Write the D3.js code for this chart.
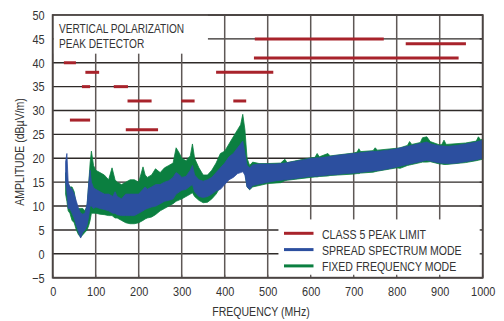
<!DOCTYPE html>
<html>
<head>
<meta charset="utf-8">
<script src="https://cdn.jsdelivr.net/npm/d3@7"></script>
<style>
html,body{margin:0;padding:0;background:#fff;}
svg{display:block;}
text{font-family:"Liberation Sans",Arial,sans-serif;fill:#333;}
</style>
</head>
<body>
<svg id="chart" width="504" height="321"></svg>
<script>
// ---- data ----
const xTicks = [0,100,200,300,400,500,600,700,800,900,1000];
const yTicks = [-5,0,5,10,15,20,25,30,35,40,45,50];

// CLASS 5 peak limit segments (MHz start, MHz end, dBµV/m)
const limitStart = [26, 76, 68, 40, 142, 174, 170, 299, 420, 380, 470, 468, 821];
const limitEnd   = [54, 108, 87, 87, 175, 230, 245, 330, 450, 513, 770, 944, 961];
const limitLevel = [40, 38, 35, 28, 35, 32, 26, 32, 32, 38, 45, 41, 44];

// Spread spectrum mode band (low / high envelope)
const specFreq = [30,33,36,40,45,50,55,60,65,70,75,80,84,87,90,95,100,110,120,130,140,145,150,160,170,180,190,200,210,215,220,230,240,250,260,270,280,287,295,300,310,320,325,330,340,350,360,370,380,390,400,410,420,430,437,442,447,452,458,465,480,500,520,540,560,580,600,620,640,660,680,700,720,740,760,780,800,820,840,860,870,880,900,920,940,960,980,1000];
const specHi   = [19.2,21,15,14,13.5,12.5,11,9.5,8.5,8.3,8.5,10.5,15,17.5,15,13.8,13.5,13,12.5,12.5,12,13,12,11.5,12.5,12.5,12.5,12.5,13.5,14,13.5,14,14.5,14.5,15,15.3,16,17,16.5,16,16.2,17.5,18.5,16.5,15.5,15.2,15.5,16,17,18,19,20.3,21,22.2,23,23.6,21,18.5,18,18.6,18.8,18.8,18.8,19,19.3,19.6,20,20.1,20.3,20.6,20.8,21,21.2,21.4,21.5,21.7,22,22.4,22.8,23.2,23.4,23,22.6,22.5,22.7,23,23.3,23.8];
const specLo   = [15,13,9.5,9.5,8.5,7.5,6,4.5,3.3,4.5,5,6,8,10,10,9.5,9.8,9.5,9.3,9,8.5,8.5,8.2,8,8,8,8,8.5,9,9.3,9.5,9.8,10,10.5,11,11.2,11.5,12.5,13,13.3,13.5,14.2,14.5,13,12,11.8,12,12.5,13.2,13.5,14.5,15.5,16,16.8,17,17.2,16.5,14,13.5,14.3,14.6,15,15.3,15.5,15.7,16,16.2,16.3,16.5,16.6,16.8,16.9,17.1,17.3,17.5,17.8,18.2,18.6,19,19.4,19.6,19.4,19,18.9,19,19.3,19.6,20];

// Fixed frequency mode band (low / high envelope)
const fixFreq = [30,33,36,40,45,50,55,60,65,70,75,80,84,87,90,95,100,110,120,130,138,145,150,160,170,180,190,200,210,215,220,230,239,250,260,270,280,287,295,300,310,320,325,330,340,350,360,370,380,390,400,410,420,430,437,442,447,452,458,465,480,500,530,540,545,600,610,615,620,640,645,700,708,712,716,745,750,755,800,808,825,830,835,855,860,870,878,900,905,910,915,960,985,990,995,1000];
const fixHi   = [17,15,14.5,14,14,13,10,9.5,9.5,9.5,9,10,15,19,21.5,18.5,17.5,17,16.5,15.5,18,15.5,15,14.5,15,15.5,15.5,15,18.2,16.5,16,16.5,17.8,17,18,18.5,19,22.2,21,20,19.5,20.5,23,20,18,16.5,16.5,17.5,19,21,21.5,23,24.5,26,27,29.2,26,20,18.5,19.2,18.9,18.9,19,19.8,19.1,20.1,20.2,21,20.3,21,20.5,21.1,21.3,22,21.4,21.6,22.2,21.7,22.1,22.2,22.7,23.5,22.9,23.3,24.3,24.5,23.5,22.8,22.9,23.8,22.9,23.2,23.6,24.5,23.9,24];
const fixLo   = [12.5,11,9,8.5,7,6.5,5,4,3.5,4,4.5,5,6,7,8.5,8.5,8.5,8.3,8.2,8,8,7.5,7.5,7,6.5,6.3,6.3,6.5,7,7.3,7.5,7.7,8.2,9,9.5,10,10.5,11,11.3,11.5,12,12.5,12.8,12,11.2,10.7,10.8,11.5,12.5,14,15,15.8,16.3,17,17.5,17.8,17,14,13.4,14,14.3,14.7,14.9,15.3,15.4,16,16.1,16.1,16.2,16.3,16.4,16.7,16.8,16.8,16.9,17.1,17.2,17.3,18,17.9,18.5,18.6,18.7,19.1,19.2,19.2,19.3,18.8,18.8,18.7,18.7,19.1,19.5,19.6,19.7,19.8];

const legendLabels = ["CLASS 5 PEAK LIMIT","SPREAD SPECTRUM MODE","FIXED FREQUENCY MODE"];
const colors = {limit:"#a8232b", spec:"#2c4f9f", fix:"#0b7f40"};

// ---- chart ----
const SX = 0.81; // horizontal compression to mimic a narrow face
const svg = d3.select("#chart");
const x = d3.scaleLinear().domain([0,1000]).range([52.7,482.7]);
const y = d3.scaleLinear().domain([-5,50]).range([277.7,15]);

function label(px, py, str, size, anchor, rot){
  const g = svg.append("g").attr("transform", `translate(${px},${py})` + (rot ? ` rotate(${rot})` : ""));
  g.append("text").attr("transform", `scale(${SX},1)`).attr("text-anchor", anchor || "start")
    .attr("font-size", size).text(str);
  return g;
}

// grid
const grid = svg.append("g");
grid.selectAll("line.h").data(yTicks).join("line")
  .attr("x1", x(0)).attr("x2", x(1000))
  .attr("y1", d=>y(d)).attr("y2", d=>y(d))
  .attr("stroke","#2e2a28").attr("stroke-width",1.4);
grid.selectAll("line.v").data(xTicks).join("line")
  .attr("x1", d=>x(d)).attr("x2", d=>x(d))
  .attr("y1", y(50)).attr("y2", y(-5))
  .attr("stroke","#5e5856").attr("stroke-width",1.5);

// white boxes (title, legend)
svg.append("rect").attr("x", x(0)+1).attr("y", y(50)-0.5)
  .attr("width", x(361)-x(0)-1).attr("height", y(41.8)-y(50)).attr("fill","#fff");
svg.append("rect").attr("x", x(525)).attr("y", y(7.2))
  .attr("width", x(1000)-x(525)-1).attr("height", y(-5)-y(7.2)-1).attr("fill","#fff");

// small inward ticks on bottom and right edges
svg.append("g").selectAll("line").data(xTicks).join("line")
  .attr("x1", d=>x(d)).attr("x2", d=>x(d)).attr("y1", y(-5)).attr("y2", y(-5)-3)
  .attr("stroke","#5e5856").attr("stroke-width",1.3);
svg.append("g").selectAll("line").data(yTicks).join("line")
  .attr("x1", x(1000)).attr("x2", x(1000)-3).attr("y1", d=>y(d)).attr("y2", d=>y(d))
  .attr("stroke","#2e2a28").attr("stroke-width",1.3);

// bands
const bandFix = fixFreq.map((f,i)=>({f, lo:fixLo[i], hi:fixHi[i]}));
const bandSpec = specFreq.map((f,i)=>({f, lo:specLo[i], hi:specHi[i]}));
const area = d3.area().x(d=>x(d.f)).y0(d=>y(d.lo)).y1(d=>y(d.hi)).curve(d3.curveLinear);
svg.append("path").datum(bandFix).attr("d", area).attr("fill", colors.fix)
  .attr("stroke", colors.fix).attr("stroke-width",0.8);
svg.append("path").datum(bandSpec).attr("d", area).attr("fill", colors.spec)
  .attr("stroke", colors.spec).attr("stroke-width",0.8);

// limit segments
const limits = limitStart.map((s,i)=>({s, e:limitEnd[i], v:limitLevel[i]}));
svg.append("g").selectAll("line").data(limits).join("line")
  .attr("x1", d=>x(d.s)).attr("x2", d=>x(d.e))
  .attr("y1", d=>y(d.v)).attr("y2", d=>y(d.v))
  .attr("stroke", colors.limit).attr("stroke-width",3);

// frame
svg.append("rect").attr("x", x(0)).attr("y", y(50))
  .attr("width", x(1000)-x(0)).attr("height", y(-5)-y(50))
  .attr("fill","none").attr("stroke","#4a4442").attr("stroke-width",1.8);

// axes
const xAxis = d3.axisBottom(x).tickValues(xTicks).tickSize(0).tickPadding(9).tickFormat(d3.format("d"));
const gx = svg.append("g").attr("transform",`translate(0,${y(-5)})`).call(xAxis);
gx.select(".domain").remove();
gx.selectAll("text").attr("font-size",13.5).attr("fill","#333")
  .attr("transform",`scale(${SX},1)`)
  .style("font-family",'"Liberation Sans",Arial,sans-serif');

const yAxis = d3.axisLeft(y).tickValues(yTicks).tickSize(0).tickPadding(8);
const gy = svg.append("g").attr("transform",`translate(${x(0)},0)`).call(yAxis);
gy.select(".domain").remove();
gy.selectAll("text").attr("font-size",13.5).attr("fill","#333")
  .attr("x", -8/SX).attr("transform",`scale(${SX},1)`)
  .style("font-family",'"Liberation Sans",Arial,sans-serif');

// titles
label(261, 316, "FREQUENCY (MHz)", 13, "middle");
label(24, 152, "AMPLITUDE (dBµV/m)", 13, "middle", -90);
label(59, 33, "VERTICAL POLARIZATION", 12.5);
label(59, 48.3, "PEAK DETECTOR", 12.5);

// legend
const legColors = [colors.limit, colors.spec, colors.fix];
legendLabels.forEach((lab,i)=>{
  const yy = 233.3 + i*16.3;
  svg.append("line").attr("x1",284).attr("x2",313.5).attr("y1",yy).attr("y2",yy)
    .attr("stroke",legColors[i]).attr("stroke-width",3);
  label(322, yy+5.5, lab, 13);
});
</script>
</body>
</html>
